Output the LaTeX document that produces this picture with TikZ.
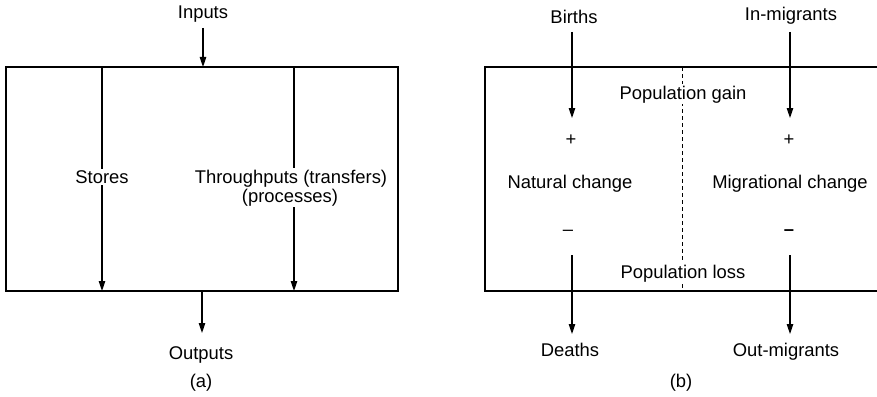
\documentclass[tikz,border=0pt]{standalone}
\usepackage{fontspec}
\setmainfont{Liberation Sans}
\usetikzlibrary{arrows.meta}
\begin{document}
\begin{tikzpicture}[x=1pt,y=-1pt,
  every node/.style={font=\fontsize{18.4}{19}\selectfont, inner sep=0pt},
  lbl/.style={anchor=base},
  cut/.style={anchor=base, fill=white, inner xsep=2pt, inner ysep=1.5pt},
  flow/.style={line width=1.1pt, -{Triangle[length=10pt,width=6.5pt]}},
  frame/.style={line width=1.2pt},
  divider/.style={line width=0.9pt, dash pattern=on 4pt off 3pt}]
\useasboundingbox (0,0) rectangle (877,396);

% ---------- (a) general system ----------
\coordinate (aNW) at (6,67);
\coordinate (aSE) at (398,291);
\draw[frame] (aNW) rectangle (aSE);

\coordinate (inTop) at (203,28);
\coordinate (inBox) at (203,67);
\coordinate (stTop) at (102,67);
\coordinate (stBot) at (102,291);
\coordinate (thTop) at (294,67);
\coordinate (thBot) at (294,291);
\coordinate (outBox) at (202,291);
\coordinate (outEnd) at (202,333);

\draw[flow] (inTop) -- (inBox);
\draw[flow] (stTop) -- (stBot);
\draw[flow] (thTop) -- (thBot);
\draw[flow] (outBox) -- (outEnd);

\node[lbl] (inputs) at (203,19) {Inputs};
\node[cut] (stores) at (102,183) {Stores};
\node[cut] (thru) at (291,183) {Throughputs (transfers)};
\node[cut] (proc) at (290,202) {(processes)};
\node[lbl] (outputs) at (201,359) {Outputs};
\node[lbl] (capa) at (201,387) {(a)};

% ---------- (b) population system ----------
\draw[frame] (878,67) -- (485,67) -- (485,291) -- (878,291);
\coordinate (dvTop) at (682,67);
\coordinate (dvBot) at (682,291);
\draw[divider] (dvTop) -- (dvBot);

\coordinate (bStart) at (572,32);
\coordinate (bEnd) at (572,118);
\coordinate (dStart) at (572,255);
\coordinate (dEnd) at (572,334);
\coordinate (iStart) at (790,32);
\coordinate (iEnd) at (790,118);
\coordinate (oStart) at (790,255);
\coordinate (oEnd) at (790,334);

\draw[flow] (bStart) -- (bEnd);
\draw[flow] (dStart) -- (dEnd);
\draw[flow] (iStart) -- (iEnd);
\draw[flow] (oStart) -- (oEnd);

\node[lbl] (births) at (574,24) {Births};
\node[lbl] (inmig) at (791,21) {In-migrants};
\node[cut] (gain) at (683,99) {Population gain};
\node (plusN) at (571,140) {+};
\node (plusM) at (789,140) {+};
\node[lbl] (natural) at (570,188) {Natural change};
\node[lbl] (migr) at (790,188) {Migrational change};
\node (minusN) at (568,233) {–};
\node (minusM) at (789,233) {\textbf{–}};
\node[cut] (loss) at (683,278) {Population loss};
\node[lbl] (deaths) at (570,356) {Deaths};
\node[lbl] (outmig) at (786,356) {Out-migrants};
\node[lbl] (capb) at (681,387) {(b)};
\end{tikzpicture}
\end{document}
